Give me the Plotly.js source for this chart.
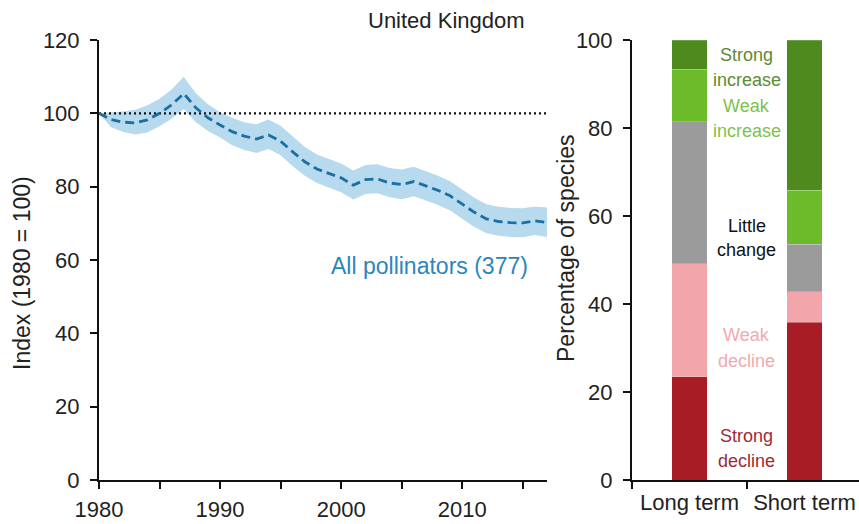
<!DOCTYPE html>
<html>
<head>
<meta charset="utf-8">
<script src="https://cdn.plot.ly/plotly-3.0.1.min.js"></script>
<style>html,body{margin:0;padding:0;background:#fff;}#chart{width:859px;height:524px;}</style>
</head>
<body>
<div id="chart"></div>
<script>
// ---- Data ----
const years = [1980,1981,1982,1983,1984,1985,1986,1987,1988,1989,1990,1991,1992,1993,1994,1995,1996,1997,1998,1999,2000,2001,2002,2003,2004,2005,2006,2007,2008,2009,2010,2011,2012,2013,2014,2015,2016,2017];
const indexValues = [100,98.3,97.6,97.4,98.2,100.0,102.3,105.4,101.5,98.8,96.8,95.0,93.8,93.0,94.1,92.4,89.5,86.8,84.8,83.6,82.4,80.4,81.9,82.1,81.0,80.6,81.4,80.2,79.0,77.5,75.2,73.0,71.2,70.5,70.2,70.1,70.7,70.2];
const upperCI = [100,100.2,100.5,101,102.2,104,106.5,110,105.5,102.5,100.3,98.8,97.6,97,98.3,96.6,93.6,90.8,88.8,87.6,86.3,84.4,85.9,86.1,85.1,84.7,85.4,84.2,83,81.5,79.2,77,75.2,74.5,74.2,74.1,74.6,74.3];
const lowerCI = [100,96.2,94.9,94.2,94.8,96.5,98.5,101.2,97.6,95.2,93.4,91.3,90,89.2,90.3,88.6,85.6,83,81,79.7,78.5,76.5,78,78.2,77.1,76.6,77.4,76.2,75,73.5,71.2,69,67.3,66.6,66.3,66.2,66.8,66.3];
const baselineYears = [1980, 2017];
const baselineValues = [100, 100];

const xTickVals = [1980,1985,1990,1995,2000,2005,2010,2015];
const xTickText = ["1980","","1990","","2000","","2010",""];

const trendCategories = ["Long term","Short term"];
const strongDecline = [23.5, 35.8];
const weakDecline = [25.7, 7.0];
const littleChange = [32.2, 10.8];
const weakIncrease = [11.9, 12.3];
const strongIncrease = [6.7, 34.1];

// ---- Styles ----
const FONT = "Liberation Sans, Arial, sans-serif";
const C = {
  sd: "#a81d25", wd: "#f2a6ab", lc: "#9b9b9b", wi: "#6cbb2a", si: "#4f8a1f",
  sdT: "#9e2a35", wdT: "#f0aab1", lcT: "#111111", wiT: "#7dc24a", siT: "#5c8c33"
};

const traces = [
  {x: years, y: upperCI, type: "scatter", mode: "lines", line: {width: 0, color: "rgba(0,0,0,0)"}, hoverinfo: "skip", showlegend: false, xaxis: "x", yaxis: "y"},
  {x: years, y: lowerCI, type: "scatter", mode: "lines", line: {width: 0, color: "rgba(0,0,0,0)"}, fill: "tonexty", fillcolor: "#b8daee", hoverinfo: "skip", showlegend: false, xaxis: "x", yaxis: "y"},
  {x: baselineYears, y: baselineValues, type: "scatter", mode: "lines", line: {color: "#111", width: 2.2, dash: "2px,3px"}, showlegend: false, xaxis: "x", yaxis: "y"},
  {x: years, y: indexValues, type: "scatter", mode: "lines", line: {color: "#1c6fa3", width: 2.8, dash: "9px,5px"}, showlegend: false, xaxis: "x", yaxis: "y"}
];

const stacks = [
  [strongDecline, C.sd], [weakDecline, C.wd], [littleChange, C.lc], [weakIncrease, C.wi], [strongIncrease, C.si]
];
stacks.forEach(([vals, col]) => {
  traces.push({x: trendCategories, y: vals, type: "bar", marker: {color: col, line: {width: 0.5, color: "rgba(255,255,255,0.4)"}}, width: 0.313, showlegend: false, xaxis: "x2", yaxis: "y2"});
});

const tickFont = {family: FONT, size: 22, color: "#222"};

function lbl(text, y, color) {
  return {xref: "x2", yref: "y2", x: 0.5, y: y, text: text, showarrow: false, font: {family: FONT, size: 18, color: color}, xanchor: "center", yanchor: "middle"};
}

const axisCommon = {
  showgrid: false, zeroline: false, showline: true, linecolor: "#111", linewidth: 2,
  ticks: "outside", ticklen: 7, tickwidth: 2, tickcolor: "#111"
};

const layout = {
  width: 859, height: 524,
  margin: {l: 0, r: 0, t: 40, b: 44},
  paper_bgcolor: "#fff", plot_bgcolor: "#fff",
  barmode: "stack",
  showlegend: false,
  xaxis: Object.assign({}, axisCommon, {
    domain: [99/859, 547/859], range: [1980, 2017], tickvals: xTickVals, ticktext: xTickText,
    tickfont: tickFont, ticklabelstandoff: 2
  }),
  yaxis: Object.assign({}, axisCommon, {
    domain: [0, 1], range: [0, 120], dtick: 20, anchor: "x",
    tickfont: tickFont, ticklabelstandoff: 6
  }),
  xaxis2: Object.assign({}, axisCommon, {
    domain: [632/859, 1], type: "category", range: [-0.5, 1.474], anchor: "y2",
    tickson: "boundaries", tickfont: {family: FONT, size: 22, color: "#222"}, ticklabelstandoff: 2
  }),
  yaxis2: Object.assign({}, axisCommon, {
    domain: [0, 1], range: [0, 100], dtick: 20, anchor: "x2",
    tickfont: tickFont, ticklabelstandoff: 6
  }),
  annotations: [
    {xref: "paper", yref: "paper", x: 447/859, y: 1 + 20/440, text: "United Kingdom", showarrow: false, font: {family: FONT, size: 22, color: "#222"}, xanchor: "center", yanchor: "middle"},
    {xref: "x", yref: "y", x: 2007.3, y: 58.4, text: "All pollinators (377)", showarrow: false, font: {family: FONT, size: 23, color: "#2b86bd"}, xanchor: "center", yanchor: "middle"},
    {xref: "paper", yref: "paper", x: 22/859, y: (480-273)/440, text: "Index (1980 = 100)", textangle: -90, showarrow: false, font: {family: FONT, size: 23, color: "#222"}, xanchor: "center", yanchor: "middle"},
    {xref: "paper", yref: "paper", x: 566/859, y: (480-248)/440, text: "Percentage of species", textangle: -90, showarrow: false, font: {family: FONT, size: 23, color: "#222"}, xanchor: "center", yanchor: "middle"},
    lbl("Strong", 96.6, C.siT), lbl("increase", 90.9, C.siT),
    lbl("Weak", 85.0, C.wiT), lbl("increase", 79.3, C.wiT),
    lbl("Little", 57.7, C.lcT), lbl("change", 52.3, C.lcT),
    lbl("Weak", 32.9, C.wdT), lbl("decline", 27.0, C.wdT),
    lbl("Strong", 10.1, C.sdT), lbl("decline", 4.3, C.sdT)
  ]
};

Plotly.newPlot("chart", traces, layout, {staticPlot: true, displayModeBar: false});
</script>
</body>
</html>
